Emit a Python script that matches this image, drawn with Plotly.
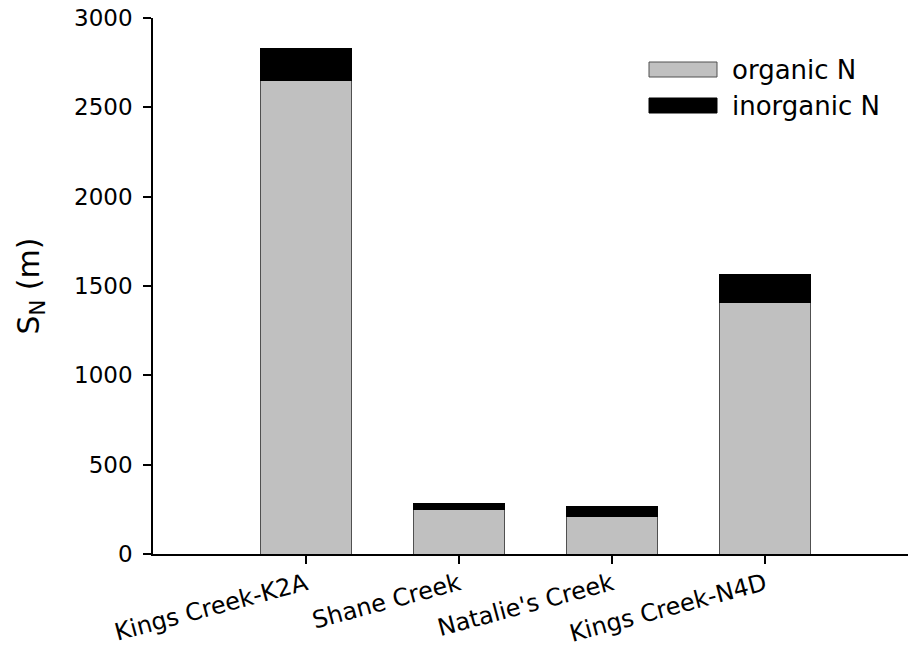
import plotly.graph_objects as go

# Stream reaches and nitrogen uptake length components (m)
sites = ["Kings Creek-K2A", "Shane Creek", "Natalie's Creek", "Kings Creek-N4D"]
organic_n = [2650, 250, 209, 1405]
inorganic_n = [180, 30, 56, 160]
series_names = ["organic N", "inorganic N"]
series_colors = ["#C0C0C0", "#000000"]
series_lines = ["#505050", "#000000"]
y_ticks = [0, 500, 1000, 1500, 2000, 2500, 3000]

FONT = "DejaVu Sans, Arial, sans-serif"

fig = go.Figure()
for name, vals, col, lc in zip(series_names, [organic_n, inorganic_n], series_colors, series_lines):
    fig.add_trace(go.Bar(
        x=list(range(len(sites))), y=vals, name=name,
        marker=dict(color=col, line=dict(color=lc, width=1)),
        width=0.6, showlegend=False,
    ))

# Hand-drawn legend with wide swatches
left, top, w, h, gap = 649, 62, 68, 15, 36
plot_l, plot_r, plot_t, plot_b = 153, 908, 18, 554
def px(x):
    return (x - plot_l) / (plot_r - plot_l)
def py(y):
    return (plot_b - y) / (plot_b - plot_t)
shapes, annotations = [], []
for i, (name, col, lc) in enumerate(zip(series_names, series_colors, series_lines)):
    y0 = top + i * gap
    shapes.append(dict(type="rect", xref="paper", yref="paper",
                       x0=px(left), x1=px(left + w), y0=py(y0 + h), y1=py(y0),
                       fillcolor=col, line=dict(color=lc, width=1)))
    annotations.append(dict(xref="paper", yref="paper", x=px(730), y=py(y0 + h / 2),
                            text=name, showarrow=False, xanchor="left", yanchor="middle",
                            font=dict(family=FONT, size=26, color="black")))

fig.update_layout(
    barmode="stack",
    width=908, height=656,
    margin=dict(l=plot_l, r=0, t=plot_t, b=656 - plot_b),
    plot_bgcolor="white", paper_bgcolor="white",
    font=dict(family=FONT, size=23, color="black"),
    shapes=shapes, annotations=annotations,
    xaxis=dict(
        range=[-1, -1 + (plot_r - plot_l) / 153.0],
        tickmode="array", tickvals=list(range(len(sites))), ticktext=sites,
        tickangle=-15, ticks="outside", ticklen=8, tickwidth=1.5, tickcolor="black",
        showline=True, linecolor="black", linewidth=2, showgrid=False, zeroline=False,
        tickfont=dict(family=FONT, size=24), automargin=False, ticklabelstandoff=-3,
    ),
    yaxis=dict(
        range=[0, 3000], tickvals=y_ticks,
        ticks="outside", ticklen=8, tickwidth=1.5, tickcolor="black",
        showline=True, linecolor="black", linewidth=1.5, showgrid=False, zeroline=False,
        tickfont=dict(family=FONT, size=23), ticklabelstandoff=6, automargin=False,
        title=dict(text="S<sub>N</sub> (m)", font=dict(family=FONT, size=30), standoff=26),
    ),
)

fig.write_html("out.html")
